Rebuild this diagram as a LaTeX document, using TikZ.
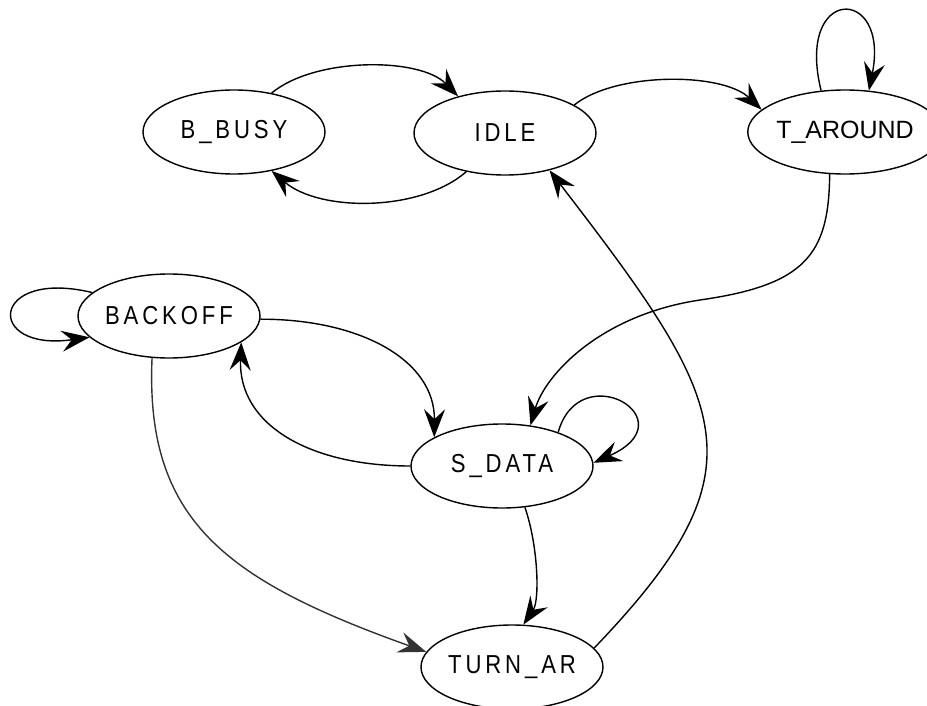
\documentclass[tikz,border=0pt]{standalone}
\usepackage{fontspec}
\usetikzlibrary{shapes.geometric,arrows.meta}
\newfontfamily\lblfont[FakeStretch=0.85,LetterSpace=15]{Liberation Sans}
\newfontfamily\plainfont{Liberation Sans}
\begin{document}
\begin{tikzpicture}[x=1pt,y=-1pt,
  state/.style={draw=black,line width=1.4pt,ellipse,minimum width=182pt,minimum height=84pt,inner sep=0pt,
     font=\lblfont\fontsize{26}{30}\selectfont},
  trans/.style={draw=black,line width=1.4pt,-{Stealth[length=28pt,width=21pt,inset=10pt]}},
  soft/.style={draw=black!80}
]
\useasboundingbox (0,0) rectangle (927,706);
\node[state] (bb) at (234,132) {B\_BUSY};
\node[state] (idle) at (505,133) {IDLE};
\node[state,minimum width=186pt,font=\plainfont\fontsize{25}{30}\selectfont] (ta) at (845,132) {T\_AROUND};
\node[state] (bo) at (169,316) {BACKOFF};
\node[state] (sd) at (502,466) {S\_DATA};
\node[state] (tr) at (512,667) {TURN\_AR};

% B_BUSY <-> IDLE
\draw[trans] (bb.46) .. controls (315,57) and (420,57) .. (idle.142);
\draw[trans] (idle.-135) .. controls (420,212) and (320,212) .. (bb.-46);
% IDLE -> T_AROUND
\draw[trans] (idle.22) .. controls (615,72) and (722,72) .. (ta.165);
% T_AROUND loop
\draw[trans] (ta.120) .. controls (795,-15) and (890,-15) .. (ta.60);
% T_AROUND -> S_DATA
\draw[trans] (ta.-110) .. controls (829,255) and (805,285) .. (700,300)
   .. controls (600,315) and (545,375) .. (sd.55);
% BACKOFF loop
\draw[trans] (bo.163) .. controls (-10,268) and (-16,352) .. (bo.195);
% BACKOFF -> S_DATA
\draw[trans] (bo.-2) .. controls (360,319) and (435,360) .. (sd.157);
% S_DATA -> BACKOFF
\draw[trans] (sd.180) .. controls (310,466) and (238,425) .. (bo.-20);
% S_DATA loop
\draw[trans] (sd.31) .. controls (580,355) and (690,420) .. (sd.2);
% S_DATA -> TURN_AR
\draw[trans] (sd.-61) .. controls (538,545) and (540,600) .. (tr.75);
% BACKOFF -> TURN_AR
\draw[trans,soft] (bo.-112) .. controls (145,520) and (225,580) .. (tr.170);
% TURN_AR -> IDLE
\draw[trans] (tr.13) .. controls (767,468) and (730,405) .. (idle.-40);
\end{tikzpicture}
\end{document}
